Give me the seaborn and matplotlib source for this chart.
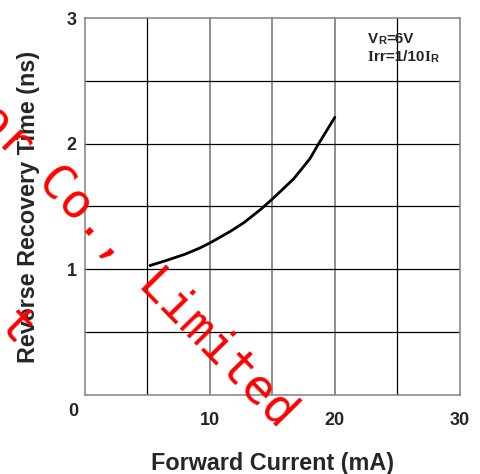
import matplotlib
matplotlib.use("Agg")
import matplotlib.pyplot as plt
import seaborn as sns
import pandas as pd

# Curve
forward_current = [5.2, 6.5, 8.0, 9.2, 10.0, 11.6, 12.7, 14.1, 15.0, 16.7, 18.0, 18.7, 20.0]
recovery_time = [1.03, 1.07, 1.12, 1.17, 1.21, 1.30, 1.37, 1.48, 1.56, 1.72, 1.88, 2.0, 2.21]

x_ticks = [10, 20, 30]
y_ticks = [1, 2, 3]
black_grid_x = [5, 25]
gray_grid_x = [10, 15, 20]
grid_y = [0.5, 1.0, 1.5, 2.0, 2.5]

df = pd.DataFrame({"If": forward_current, "trr": recovery_time})

sns.set_style("white")
plt.rcParams['font.family'] = ['Liberation Sans', 'DejaVu Sans']

fig = plt.figure(figsize=(4.8, 4.74), dpi=100)
ax = fig.add_axes([0.177, 0.1667, 0.781, 0.7953])

for gx in black_grid_x:
    ax.axvline(gx, color='black', lw=0.9, zorder=1)
for gx in gray_grid_x:
    ax.axvline(gx, color='#707070', lw=1.1, zorder=1)
for gy in grid_y:
    ax.axhline(gy, color='black', lw=0.9, zorder=1)

sns.lineplot(data=df, x="If", y="trr", color='black', lw=2.0, ax=ax, zorder=3)

ax.set_xlim(0, 30)
ax.set_ylim(0, 3)
ax.set_xticks(x_ticks)
ax.set_yticks(y_ticks)
ax.set_xticklabels([str(t) for t in x_ticks], fontsize=13, fontweight='bold')
ax.set_yticklabels([str(t) for t in y_ticks], fontsize=13, fontweight='bold')
ax.tick_params(axis='both', length=0)
ax.tick_params(axis='x', pad=12)
ax.tick_params(axis='y', pad=6)
for s in ax.spines.values():
    s.set_color('#808080')
    s.set_linewidth(1.1)

ax.text(-0.018, -0.045, "0", transform=ax.transAxes, ha='right', va='center',
        fontsize=13, fontweight='bold')

ax.set_xlabel("Forward Current (mA)", fontsize=16.8, fontweight='bold', labelpad=17)
ax.set_ylabel("Reverse Recovery Time (ns)", fontsize=16.8, fontweight='bold', labelpad=19)

# condition note in the upper right
t = ax.text(0.755, 0.935, "V", transform=ax.transAxes, fontsize=11, fontweight='bold')
t = ax.annotate("R", xy=(1, 0), xycoords=t, fontsize=8, fontweight='bold', va='bottom')
ax.annotate("=6V", xy=(1, 0), xycoords=t, fontsize=11, fontweight='bold', va='bottom')
t = ax.text(0.755, 0.886, "I", transform=ax.transAxes, fontsize=11, fontweight='bold',
            family='Liberation Serif')
t = ax.annotate("rr=1/10", xy=(1, 0), xycoords=t, fontsize=11, fontweight='bold', va='bottom')
t = ax.annotate("I", xy=(1, 0), xycoords=t, fontsize=11, fontweight='bold', va='bottom',
                family='Liberation Serif')
ax.annotate("R", xy=(1, 0), xycoords=t, fontsize=8, fontweight='bold', va='bottom')

# red watermark
wm = dict(color='red', fontsize=34.5, rotation=-45.5, rotation_mode='anchor',
          va='baseline', zorder=10, family='DejaVu Sans Mono')
fig.text(-0.221, 0.920, "ductor Co., Limited", ha='left', **wm)
fig.text(-0.009, 0.311, "t", ha='left', **wm)

fig.savefig("out.png", dpi=100)
